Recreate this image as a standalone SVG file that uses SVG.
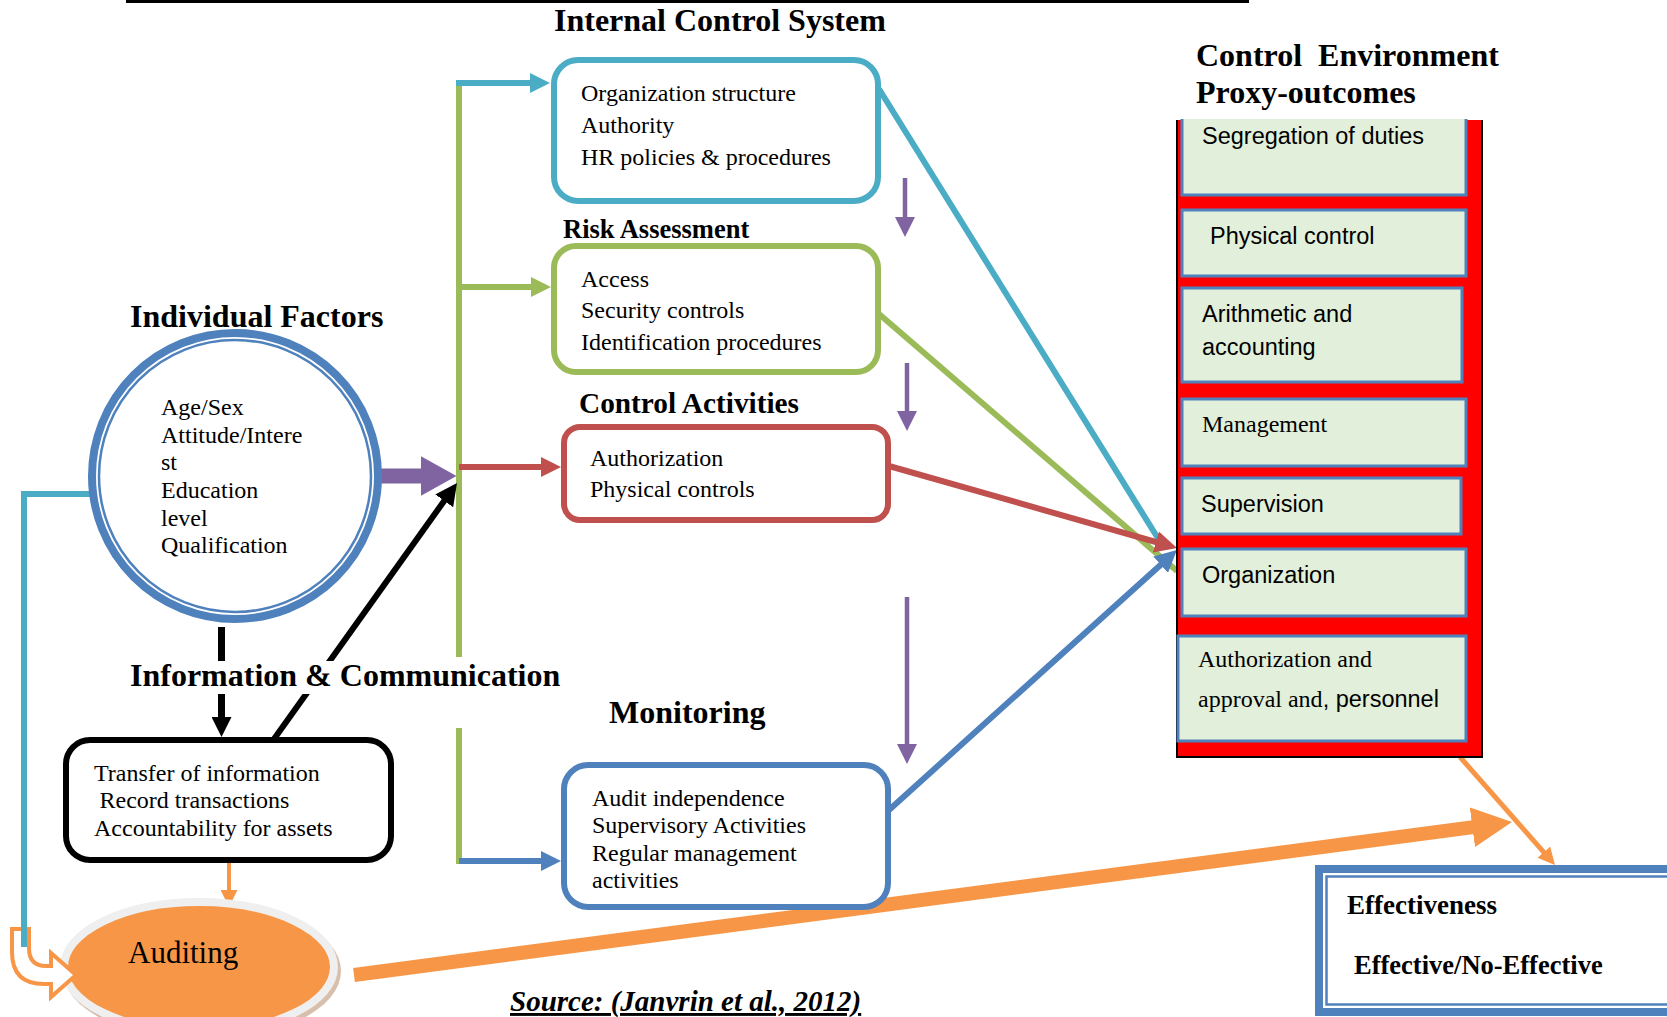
<svg xmlns="http://www.w3.org/2000/svg" width="1667" height="1017" viewBox="0 0 1667 1017">
<style>
.serif{font-family:"Liberation Serif","Times New Roman",serif;fill:#000}
.sans{font-family:"Liberation Sans",Arial,sans-serif;fill:#000}
.hd{font-family:"Liberation Serif","Times New Roman",serif;font-weight:bold;fill:#000}
.t24{font-size:24px}
.s23{font-size:23.5px}
.box{fill:#fff;stroke-width:6}
.pbox{fill:#E2EFDA;stroke:#4F81BD;stroke-width:3}
.ln{fill:none;stroke-linecap:butt}
</style>
<defs>
<marker id="mCyan" viewBox="0 0 10 10" refX="5" refY="5" markerUnits="userSpaceOnUse" markerWidth="20" markerHeight="20" orient="auto"><path d="M0,0 L10,5 L0,10 z" fill="#4BACC6"/></marker>
<marker id="mGreen" viewBox="0 0 10 10" refX="5" refY="5" markerUnits="userSpaceOnUse" markerWidth="20" markerHeight="20" orient="auto"><path d="M0,0 L10,5 L0,10 z" fill="#9BBB59"/></marker>
<marker id="mRed" viewBox="0 0 10 10" refX="5" refY="5" markerUnits="userSpaceOnUse" markerWidth="20" markerHeight="20" orient="auto"><path d="M0,0 L10,5 L0,10 z" fill="#C0504D"/></marker>
<marker id="mRedL" viewBox="0 0 10 10" refX="5" refY="5" markerUnits="userSpaceOnUse" markerWidth="22" markerHeight="22" orient="auto"><path d="M0,0 L10,5 L0,10 z" fill="#C0504D"/></marker>
<marker id="mBlue" viewBox="0 0 10 10" refX="5" refY="5" markerUnits="userSpaceOnUse" markerWidth="20" markerHeight="20" orient="auto"><path d="M0,0 L10,5 L0,10 z" fill="#4F81BD"/></marker>
<marker id="mBlueL" viewBox="0 0 10 10" refX="5" refY="5" markerUnits="userSpaceOnUse" markerWidth="22" markerHeight="22" orient="auto"><path d="M0,0 L10,5 L0,10 z" fill="#4F81BD"/></marker>
<marker id="mBlack" viewBox="0 0 10 10" refX="5" refY="5" markerUnits="userSpaceOnUse" markerWidth="20" markerHeight="20" orient="auto"><path d="M0,0 L10,5 L0,10 z" fill="#000"/></marker>
<marker id="mBlackL" viewBox="0 0 10 10" refX="5" refY="5" markerUnits="userSpaceOnUse" markerWidth="22" markerHeight="22" orient="auto"><path d="M0,0 L10,5 L0,10 z" fill="#000"/></marker>
<marker id="mPurple" viewBox="0 0 10 10" refX="5" refY="5" markerUnits="userSpaceOnUse" markerWidth="20" markerHeight="20" orient="auto"><path d="M0,0 L10,5 L0,10 z" fill="#8064A2"/></marker>
<marker id="mPurpleBig" viewBox="0 0 36 40" refX="0.5" refY="20" markerUnits="userSpaceOnUse" markerWidth="36" markerHeight="40" orient="auto"><path d="M0,0 L36,20 L0,40 z" fill="#8064A2"/></marker>
<marker id="mOrange" viewBox="0 0 10 10" refX="5" refY="5" markerUnits="userSpaceOnUse" markerWidth="17" markerHeight="17" orient="auto"><path d="M0,0 L10,5 L0,10 z" fill="#F79646"/></marker>
<marker id="mOrangeBig" viewBox="0 0 10 10" refX="5" refY="5" markerUnits="userSpaceOnUse" markerWidth="40" markerHeight="40" orient="auto"><path d="M0,0 L10,5 L0,10 z" fill="#F79646"/></marker>
</defs>
<rect width="1667" height="1017" fill="#fff"/>
<line x1="126" y1="1.5" x2="1249" y2="1.5" stroke="#000" stroke-width="3"/>

<g id="connectors">
<line class="ln" x1="459" y1="80" x2="459" y2="657" stroke="#9BBB59" stroke-width="6"/>
<line class="ln" x1="459" y1="728" x2="459" y2="864" stroke="#9BBB59" stroke-width="6"/>
<line class="ln" x1="456" y1="83" x2="540" y2="83" stroke="#4BACC6" stroke-width="6" marker-end="url(#mCyan)"/>
<line class="ln" x1="459" y1="287" x2="541" y2="287" stroke="#9BBB59" stroke-width="6" marker-end="url(#mGreen)"/>
<line class="ln" x1="459" y1="467" x2="551" y2="467" stroke="#C0504D" stroke-width="6" marker-end="url(#mRed)"/>
<line class="ln" x1="459" y1="861" x2="551" y2="861" stroke="#4F81BD" stroke-width="6" marker-end="url(#mBlue)"/>
<line class="ln" x1="376" y1="476" x2="421" y2="476" stroke="#8064A2" stroke-width="15" marker-end="url(#mPurpleBig)"/>
<line class="ln" x1="905" y1="178" x2="905" y2="227" stroke="#8064A2" stroke-width="4.5" marker-end="url(#mPurple)"/>
<line class="ln" x1="907" y1="363" x2="907" y2="421" stroke="#8064A2" stroke-width="4.5" marker-end="url(#mPurple)"/>
<line class="ln" x1="907" y1="597" x2="907" y2="754" stroke="#8064A2" stroke-width="4.5" marker-end="url(#mPurple)"/>
<line class="ln" x1="879" y1="89" x2="1164" y2="548" stroke="#4BACC6" stroke-width="6"/>
<line class="ln" x1="879" y1="314" x2="1177" y2="571" stroke="#9BBB59" stroke-width="6"/>
<line class="ln" x1="889" y1="466" x2="1166.4" y2="545" stroke="#C0504D" stroke-width="6" marker-end="url(#mRedL)"/>
<line class="ln" x1="889" y1="810" x2="1168.8" y2="557.4" stroke="#4F81BD" stroke-width="6" marker-end="url(#mBlueL)"/>
<line class="ln" x1="221.5" y1="627" x2="221.5" y2="727" stroke="#000" stroke-width="7" marker-end="url(#mBlack)"/>
<line class="ln" x1="274" y1="739" x2="450.6" y2="491.9" stroke="#000" stroke-width="6" marker-end="url(#mBlackL)"/>
<polyline class="ln" points="93,494 24,494 24,947" stroke="#4BACC6" stroke-width="6"/>
<line class="ln" x1="229" y1="862" x2="229" y2="898.5" stroke="#F79646" stroke-width="4" marker-end="url(#mOrange)"/>
<line class="ln" x1="354" y1="975" x2="1492.2" y2="824.6" stroke="#F79646" stroke-width="14" marker-end="url(#mOrangeBig)"/>
<line class="ln" x1="1460" y1="757" x2="1549.4" y2="858.6" stroke="#F79646" stroke-width="5" marker-end="url(#mOrange)"/>
</g>

<g id="title">
<text class="hd" x="554" y="31" font-size="32">Internal Control System</text>
</g>

<g id="internal-control-box">
<rect class="box" x="554" y="60" width="324" height="141" rx="24" stroke="#4BACC6"/>
<text class="serif t24" x="581" y="101">Organization structure</text>
<text class="serif t24" x="581" y="133">Authority</text>
<text class="serif t24" x="581" y="165">HR policies &amp; procedures</text>
</g>

<g id="risk-assessment">
<text class="hd" x="563" y="238" font-size="26.5">Risk Assessment</text>
<rect class="box" x="554" y="246" width="324" height="126" rx="22" stroke="#9BBB59"/>
<text class="serif t24" x="581" y="287">Access</text>
<text class="serif t24" x="581" y="318">Security controls</text>
<text class="serif t24" x="581" y="350">Identification procedures</text>
</g>

<g id="control-activities">
<text class="hd" x="579" y="413" font-size="29.3">Control Activities</text>
<rect class="box" x="564" y="427" width="324" height="93" rx="16" stroke="#C0504D"/>
<text class="serif t24" x="590" y="466">Authorization</text>
<text class="serif t24" x="590" y="497">Physical controls</text>
</g>

<g id="monitoring">
<text class="hd" x="609" y="723" font-size="32">Monitoring</text>
<rect class="box" x="564" y="765" width="324" height="142" rx="24" stroke="#4F81BD"/>
<text class="serif t24" x="592" y="806">Audit independence</text>
<text class="serif t24" x="592" y="833">Supervisory Activities</text>
<text class="serif t24" x="592" y="861">Regular management</text>
<text class="serif t24" x="592" y="888">activities</text>
</g>

<g id="individual-factors">
<text class="hd" x="130" y="327" font-size="32">Individual Factors</text>
<circle cx="235" cy="476" r="143" fill="#fff" stroke="#4F81BD" stroke-width="8"/>
<circle cx="235" cy="476" r="136" fill="none" stroke="#4F81BD" stroke-width="2.5"/>
<text class="serif t24" x="161" y="415">Age/Sex</text>
<text class="serif t24" x="161" y="443">Attitude/Intere</text>
<text class="serif t24" x="161" y="470">st</text>
<text class="serif t24" x="161" y="498">Education</text>
<text class="serif t24" x="161" y="526">level</text>
<text class="serif t24" x="161" y="553">Qualification</text>
</g>

<g id="information-communication">
<rect x="126" y="661" width="438" height="33" fill="#fff"/>
<text class="hd" x="130" y="686" font-size="32">Information &amp; Communication</text>
<rect class="box" x="66" y="740" width="325" height="120" rx="24" stroke="#000"/>
<text class="serif t24" x="94" y="781">Transfer of information</text>
<text class="serif t24" x="99.5" y="808">Record transactions</text>
<text class="serif t24" x="94" y="836">Accountability for assets</text>
</g>

<g id="auditing">
<ellipse cx="202" cy="971" rx="139" ry="69" fill="#B88A66" opacity="0.55"/>
<ellipse cx="199" cy="967" rx="135" ry="65" fill="#F79646" stroke="#EFEFEF" stroke-width="8"/>
<text class="serif" x="128" y="963" font-size="31">Auditing</text>
<path d="M12,929 L29,929 L29,948 Q29,966 46,966 L51,966 L51,953 L76,975 L51,997 L51,984 L44,984 Q12,984 12,952 Z" fill="#fff" stroke="#F79646" stroke-width="4" stroke-linejoin="miter"/>
<line x1="24" y1="925" x2="24" y2="947" stroke="#4BACC6" stroke-width="6"/>
</g>

<g id="proxy-outcomes">
<text class="hd" x="1196" y="66" font-size="32" xml:space="preserve">Control  Environment</text>
<text class="hd" x="1196" y="103" font-size="32">Proxy-outcomes</text>
<rect x="1177" y="120" width="305" height="637" fill="#FF0000"/>
<path d="M1177,120 L1177,757 L1482,757 L1482,120" fill="none" stroke="#000" stroke-width="2"/>
<rect x="1182" y="119" width="284" height="76" fill="#E2EFDA"/>
<path d="M1182,119 L1182,195 L1466,195 L1466,119" fill="none" stroke="#4F81BD" stroke-width="3"/>
<text class="sans s23" x="1202" y="144">Segregation of duties</text>
<rect class="pbox" x="1182" y="210" width="284" height="66"/>
<text class="sans s23" x="1210" y="244">Physical control</text>
<rect class="pbox" x="1182" y="288" width="280" height="94"/>
<text class="sans s23" x="1202" y="322">Arithmetic and</text>
<text class="sans s23" x="1202" y="355">accounting</text>
<rect class="pbox" x="1182" y="399" width="284" height="67"/>
<text class="serif t24" x="1202" y="432">Management</text>
<rect class="pbox" x="1182" y="478" width="279" height="56"/>
<text class="sans s23" x="1201" y="512">Supervision</text>
<rect class="pbox" x="1182" y="549" width="284" height="67"/>
<text class="sans s23" x="1202" y="583">Organization</text>
<rect class="pbox" x="1178" y="636" width="288" height="105"/>
<text class="serif t24" x="1198" y="667">Authorization and</text>
<text x="1198" y="707"><tspan class="serif t24">approval and</tspan><tspan class="sans s23">, personnel</tspan></text>
</g>

<g id="effectiveness">
<rect x="1319" y="869" width="420" height="143" fill="#fff" stroke="#4F81BD" stroke-width="8"/>
<rect x="1326.5" y="876.5" width="420" height="128" fill="none" stroke="#4F81BD" stroke-width="2.5"/>
<text class="hd" x="1347" y="914" font-size="27">Effectiveness</text>
<text class="hd" x="1354" y="974" font-size="26.5">Effective/No-Effective</text>
</g>

<g id="source">
<text class="hd" x="510" y="1011" font-size="29" font-style="italic" text-decoration="underline">Source: (Janvrin et al., 2012)</text>
</g>
</svg>
